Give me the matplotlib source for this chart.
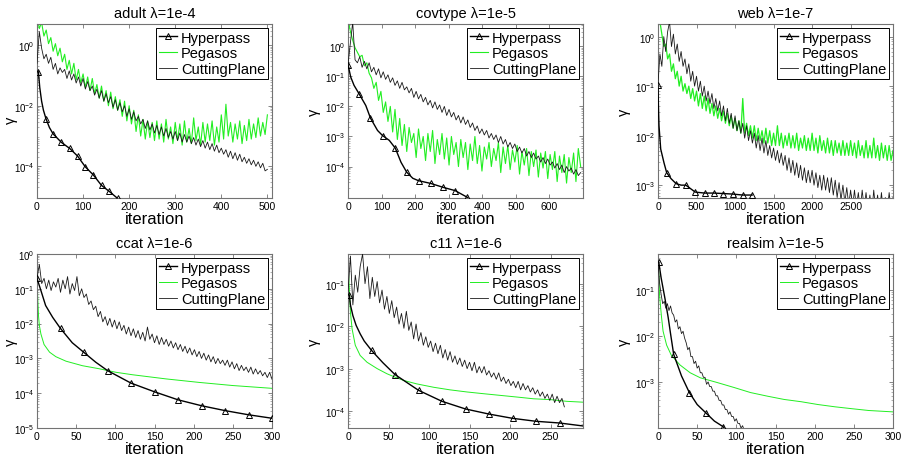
import numpy as np
import matplotlib
matplotlib.use("Agg")
import matplotlib.pyplot as plt
from matplotlib.ticker import FixedLocator, LogLocator, NullFormatter

plt.rcParams['font.family'] = ['Liberation Sans', 'DejaVu Sans']
plt.rcParams['mathtext.default'] = 'regular'

# ---- adult, lambda=1e-4 -------------------------------------------------
adult_hp_x = [3, 6, 10, 14, 19.5, 27, 35, 53, 71, 88, 105, 122, 140, 157, 175]
adult_hp_exp = [-0.88, -1.4, -1.85, -2.15, -2.43, -2.72, -2.93, -3.21, -3.41,
                -3.66, -4.02, -4.28, -4.63, -4.83, -5.06]
adult_peg_step = 5
adult_peg_exp = [0.95, 0.55, 0.75, 0.3, 0.5, 0.05, 0.25, -0.2, 0.05, -0.35,
                 -0.1, -0.55, -0.3, -0.8, -0.5, -0.95, -0.6, -1.15, -0.8, -1.25,
                 -0.95, -1.4, -1.05, -1.5, -1.1, -1.6, -1.3, -1.75, -1.35, -1.85,
                 -1.5, -2.0, -1.55, -2.1, -1.7, -2.15, -1.8, -2.35, -1.85, -2.5,
                 -2.0, -2.6, -2.15, -2.85, -2.3, -3.0, -2.45, -3.1, -2.5, -3.05,
                 -2.55, -3.15, -2.5, -3.1, -2.6, -3.2, -2.45, -3.1, -2.7, -3.25,
                 -2.55, -3.15, -2.6, -3.3, -2.5, -3.2, -2.75, -3.25, -2.4, -3.15,
                 -2.7, -3.3, -2.55, -3.2, -2.6, -3.15, -2.5, -3.3, -2.7, -3.2,
                 -2.3, -3.1, -1.95, -3.0, -2.55, -3.2, -2.6, -3.1, -2.5, -3.25,
                 -2.65, -3.15, -2.45, -3.1, -2.6, -3.05, -2.4, -3.0, -2.55, -2.95,
                 -2.3]
adult_cp_step = 5
adult_cp_exp = [-0.6, 0.45, -0.1, -0.45, -0.3, -0.6, -0.4, -0.8, -0.6, -0.95,
                -0.75, -0.9, -0.8, -1.1, -0.85, -1.15, -0.95, -1.25, -1.05, -1.35,
                -1.1, -1.45, -1.2, -1.5, -1.35, -1.65, -1.45, -1.75, -1.5, -1.85,
                -1.6, -1.9, -1.7, -2.05, -1.8, -2.15, -1.9, -2.2, -2.0, -2.35,
                -2.1, -2.45, -2.2, -2.5, -2.35, -2.6, -2.45, -2.75, -2.5, -2.8,
                -2.6, -2.9, -2.65, -2.95, -2.7, -3.0, -2.75, -3.05, -2.85, -3.1,
                -2.85, -3.15, -2.9, -3.2, -2.95, -3.2, -3.0, -3.25, -3.05, -3.3,
                -3.1, -3.35, -3.15, -3.4, -3.2, -3.45, -3.25, -3.5, -3.3, -3.55,
                -3.4, -3.6, -3.45, -3.7, -3.5, -3.75, -3.55, -3.8, -3.6, -3.85,
                -3.7, -3.9, -3.75, -3.95, -3.8, -4.0, -3.85, -4.05, -3.9, -4.15,
                -4.1]

# ---- covtype, lambda=1e-5 -----------------------------------------------
covtype_hp_x = [0, 8, 18, 33, 53, 67, 88, 103, 123, 141, 158, 175, 193, 210,
                246, 283, 319, 355, 365]
covtype_hp_exp = [-0.61, -1.02, -1.3, -1.58, -1.97, -2.39, -2.8, -2.97, -3.13,
                  -3.39, -3.86, -4.19, -4.39, -4.47, -4.56, -4.69, -4.8, -5.02,
                  -5.12]
covtype_peg_step = 7
covtype_peg_exp = [0.9, 0.5, 0.2, -0.05, -0.2, -0.35, -0.3, -0.65, -0.55, -0.9,
                   -1.05, -1.4, -1.2, -1.8, -1.5, -2.2, -1.85, -2.5, -2.0, -2.85,
                   -2.1, -3.1, -2.4, -3.3, -2.6, -3.5, -2.7, -3.2, -2.9, -3.7,
                   -2.75, -3.4, -3.0, -3.8, -2.9, -3.5, -2.8, -3.9, -3.1, -3.6,
                   -2.9, -3.75, -3.05, -3.95, -3.0, -3.6, -3.2, -4.0, -3.1, -3.7,
                   -3.2, -4.1, -3.25, -3.8, -3.0, -3.9, -3.3, -4.15, -3.35, -3.75,
                   -3.2, -4.0, -3.4, -3.8, -3.2, -4.2, -3.35, -3.9, -3.3, -4.1,
                   -3.45, -3.85, -3.3, -4.25, -3.5, -3.95, -3.4, -4.3, -3.5, -4.0,
                   -3.45, -4.35, -3.55, -4.05, -3.5, -4.4, -3.6, -4.1, -3.5, -4.5,
                   -3.65, -4.2, -3.6, -4.55, -3.7, -4.2, -3.55, -4.5, -3.4, -4.0]
covtype_cp_step = 7
covtype_cp_exp = [-0.6, 0.1, 0.8, -0.45, -0.55, -0.35, -0.7, -0.5, -0.75, -0.55,
                  -0.85, -0.7, -0.95, -0.75, -1.05, -0.85, -1.1, -0.95, -1.2, -1.05,
                  -1.3, -1.15, -1.4, -1.2, -1.45, -1.35, -1.55, -1.4, -1.7, -1.5,
                  -1.75, -1.6, -1.85, -1.7, -1.95, -1.8, -2.05, -1.85, -2.1, -1.95,
                  -2.2, -2.0, -2.3, -2.1, -2.35, -2.2, -2.45, -2.3, -2.55, -2.35,
                  -2.6, -2.45, -2.7, -2.55, -2.8, -2.65, -2.9, -2.75, -2.95, -2.8,
                  -3.05, -2.9, -3.1, -2.95, -3.2, -3.0, -3.25, -3.1, -3.35, -3.2,
                  -3.4, -3.25, -3.5, -3.35, -3.55, -3.4, -3.65, -3.5, -3.7, -3.55,
                  -3.75, -3.65, -3.85, -3.7, -3.9, -3.75, -3.95, -3.85, -4.05, -3.9,
                  -4.1, -3.95, -4.2, -4.0, -4.15, -4.05, -4.25, -4.1, -4.3, -4.2]

# ---- web, lambda=1e-7 ---------------------------------------------------
web_hp_x = [0, 4, 8, 13, 35, 78, 113, 170, 235, 300, 361, 483, 604, 726, 848,
            970, 1100, 1222]
web_hp_exp = [-0.98, -1.3, -1.55, -1.8, -2.27, -2.55, -2.75, -2.87, -2.97, -3.0,
              -3.0, -3.14, -3.16, -3.16, -3.17, -3.18, -3.2, -3.2]
web_peg_step = 25
web_peg_exp = [0.6, 0.3, 0.05, -0.2, -0.15, -0.45, -0.35, -0.7, -0.55, -0.85,
               -0.7, -1.0, -0.8, -1.1, -0.95, -1.15, -1.0, -1.25, -1.05, -1.3,
               -1.1, -1.4, -1.15, -1.45, -1.2, -1.5, -1.25, -1.55, -1.35, -1.6,
               -1.4, -1.65, -1.45, -1.7, -1.5, -1.75, -1.55, -1.8, -1.6, -1.85,
               -1.65, -1.9, -1.7, -1.95, -1.25, -1.95, -1.75, -2.0, -1.8, -2.05,
               -1.8, -2.1, -1.85, -2.1, -1.9, -2.15, -1.85, -2.15, -1.9, -2.2,
               -1.95, -2.2, -1.8, -2.2, -1.95, -2.25, -2.0, -2.2, -1.95, -2.25,
               -2.0, -2.25, -1.95, -2.3, -2.05, -2.25, -2.0, -2.3, -2.05, -2.3,
               -1.95, -2.3, -2.05, -2.35, -2.0, -2.3, -2.1, -2.35, -2.05, -2.35,
               -2.1, -2.4, -2.1, -2.35, -2.15, -2.4, -2.1, -2.4, -2.15, -2.4,
               -2.1, -2.4, -2.15, -2.45, -2.1, -2.4, -2.2, -2.45, -2.1, -2.45,
               -2.2, -2.45, -2.05, -2.45, -2.2, -2.5, -2.15, -2.45, -2.2, -2.5,
               -2.2, -2.5, -2.3]
web_cp_step = 25
web_cp_exp = [-0.95, -0.35, -0.6, 0.0, -0.3, 0.1, 0.3, -0.2, 0.05, -0.35,
              -0.15, -0.5, -0.3, -0.6, -0.45, -0.75, -0.55, -0.9, -0.7, -1.0,
              -0.8, -1.1, -0.9, -1.2, -1.0, -1.3, -1.1, -1.35, -1.15, -1.45,
              -1.25, -1.5, -1.3, -1.6, -1.4, -1.7, -1.45, -1.75, -1.55, -1.85,
              -1.6, -1.9, -1.7, -1.95, -1.75, -2.05, -1.8, -2.1, -1.9, -2.15,
              -1.95, -2.25, -2.0, -2.3, -2.05, -2.35, -2.1, -2.4, -2.2, -2.45,
              -2.25, -2.5, -2.3, -2.55, -2.35, -2.6, -2.4, -2.7, -2.45, -2.75,
              -2.5, -2.8, -2.55, -2.85, -2.6, -2.9, -2.65, -2.95, -2.7, -2.95,
              -2.7, -3.0, -2.75, -3.05, -2.8, -3.1, -2.8, -3.1, -2.85, -3.15,
              -2.85, -3.2, -2.9, -3.25, -2.95, -3.3, -3.0, -3.35, -3.05, -3.4,
              -3.1, -3.45, -3.1, -3.45, -3.15, -3.5, -3.1, -3.45, -3.15, -3.5,
              -3.2, -3.55, -3.1, -3.5, -3.2, -3.55, -3.15, -3.55, -3.25, -3.55,
              -3.15, -3.5, -3.25]

# ---- ccat, lambda=1e-6 --------------------------------------------------
ccat_hp_x = [0, 5, 11, 20, 30, 45, 60, 75, 90, 120, 150, 180, 210, 240, 270, 300]
ccat_hp_exp = [-0.7, -1.05, -1.48, -1.82, -2.14, -2.55, -2.83, -3.11, -3.35,
               -3.71, -3.96, -4.19, -4.36, -4.5, -4.62, -4.72]
ccat_peg_x = [0, 1, 2, 3, 5, 9, 16, 24, 37, 58, 80, 101, 122, 165, 207, 250, 300]
ccat_peg_exp = [-0.6, -1.3, -1.8, -2.05, -2.3, -2.6, -2.82, -2.95, -3.08, -3.21,
                -3.3, -3.4, -3.47, -3.59, -3.69, -3.78, -3.86]
ccat_cp_step = 3
ccat_cp_exp = [-0.7, -0.3, -0.85, -0.7, -1.0, -0.75, -1.05, -0.8, -0.95, -0.7,
               -1.1, -0.75, -1.0, -0.65, -1.15, -0.85, -1.05, -0.65, -1.2, -1.0,
               -1.25, -1.15, -1.45, -1.35, -1.6, -1.5, -1.8, -1.65, -1.95, -1.8,
               -2.05, -1.85, -2.1, -1.9, -2.15, -1.95, -2.2, -2.05, -2.3, -2.1,
               -2.35, -2.15, -2.4, -2.2, -2.45, -2.25, -2.5, -2.1, -2.45, -2.3,
               -2.55, -2.35, -2.6, -2.4, -2.6, -2.45, -2.65, -2.5, -2.7, -2.55,
               -2.75, -2.6, -2.8, -2.65, -2.85, -2.7, -2.9, -2.75, -2.95, -2.8,
               -3.0, -2.85, -3.05, -2.9, -3.1, -2.95, -3.15, -3.0, -3.15, -3.05,
               -3.2, -3.05, -3.25, -3.1, -3.3, -3.15, -3.35, -3.2, -3.35, -3.25,
               -3.4, -3.25, -3.45, -3.3, -3.45, -3.35, -3.5, -3.4, -3.55, -3.4,
               -3.6]

# ---- c11, lambda=1e-6 ---------------------------------------------------
c11_hp_x = [1.6, 3, 6, 10, 15, 20, 29, 43, 58, 87, 116, 145, 174, 203, 232, 261, 290]
c11_hp_exp = [-1.27, -1.5, -1.75, -1.98, -2.18, -2.35, -2.57, -2.86, -3.14, -3.51,
              -3.77, -3.95, -4.07, -4.17, -4.24, -4.28, -4.35]
c11_peg_x = [0, 1, 3, 5, 9, 15, 23.5, 36, 48, 58, 69, 85, 106, 126, 147, 167,
             188, 209, 229, 250, 270, 290]
c11_peg_exp = [-0.49, -0.88, -1.67, -2.06, -2.45, -2.69, -2.85, -3.0, -3.12, -3.2,
               -3.28, -3.36, -3.44, -3.5, -3.55, -3.59, -3.63, -3.67, -3.71, -3.73,
               -3.77, -3.79]
c11_cp_step = 3
c11_cp_exp = [-1.2, -0.35, -1.5, -0.8, -1.2, -0.6, -0.3, -1.0, -0.6, -1.35,
              -0.85, -1.3, -0.95, -1.45, -1.15, -1.6, -1.3, -1.7, -1.4, -1.8,
              -1.55, -1.95, -1.7, -2.05, -1.65, -2.1, -1.9, -2.3, -1.95, -2.35,
              -2.15, -2.45, -2.25, -2.5, -2.35, -2.6, -2.4, -2.65, -2.45, -2.75,
              -2.55, -2.8, -2.6, -2.85, -2.7, -2.9, -2.75, -2.95, -2.8, -3.0,
              -2.85, -3.05, -2.85, -3.1, -2.95, -3.1, -2.95, -3.15, -3.05, -3.2,
              -3.1, -3.25, -3.1, -3.3, -3.2, -3.35, -3.25, -3.4, -3.3, -3.45,
              -3.3, -3.5, -3.35, -3.5, -3.4, -3.55, -3.45, -3.6, -3.5, -3.65,
              -3.55, -3.7, -3.6, -3.75, -3.6, -3.8, -3.65, -3.8, -3.7, -3.9]

# ---- realsim, lambda=1e-5 -----------------------------------------------
realsim_hp_x = [1, 4, 9, 13, 16, 20, 30, 40, 50, 61, 72, 83, 87]
realsim_hp_exp = [-0.4, -0.74, -1.2, -1.6, -1.95, -2.4, -2.87, -3.23, -3.49,
                  -3.67, -3.85, -3.97, -4.05]
realsim_peg_x = [0, 1.3, 2, 4.3, 6.5, 11, 17, 28, 41, 54, 75, 97, 118, 140, 161,
                 183, 204, 226, 247, 269, 300]
realsim_peg_exp = [-0.2, -0.76, -1.12, -1.56, -1.9, -2.2, -2.42, -2.63, -2.8,
                   -2.91, -3.01, -3.12, -3.23, -3.31, -3.38, -3.43, -3.49, -3.54,
                   -3.58, -3.62, -3.65]
realsim_cp_step = 2
realsim_cp_exp = [-0.4, -0.85, -1.1, -1.3, -1.25, -1.4, -1.3, -1.45, -1.35, -1.5,
                  -1.55, -1.7, -1.65, -1.85, -1.8, -1.95, -1.9, -2.05, -2.15, -2.3,
                  -2.25, -2.45, -2.45, -2.6, -2.55, -2.7, -2.65, -2.8, -2.8, -2.9,
                  -2.9, -3.05, -3.0, -3.1, -3.1, -3.2, -3.2, -3.3, -3.3, -3.4,
                  -3.4, -3.5, -3.5, -3.6, -3.6, -3.7, -3.65, -3.75, -3.75, -3.85,
                  -3.8, -3.9, -3.9, -4.0, -3.95, -4.05]

# panel table built from the arrays above
panels = [
    dict(title='adult λ=1e-4', hp=(adult_hp_x, adult_hp_exp),
         hp_marks=[0, 4, 6, 7, 8, 9, 10, 11, 12, 13, 14],
         peg=(np.arange(len(adult_peg_exp)) * adult_peg_step, adult_peg_exp),
         cp=(np.arange(len(adult_cp_exp)) * adult_cp_step, adult_cp_exp),
         xlim=(0, 510), ylim=(9e-6, 5.0), xticks=range(0, 501, 100),
         yticks=[1, 1e-2, 1e-4], peg_lw=0.8),
    dict(title='covtype λ=1e-5', hp=(covtype_hp_x, covtype_hp_exp),
         hp_marks=[0, 3, 5, 7, 9, 11, 13, 14, 15, 16, 17],
         peg=(np.arange(len(covtype_peg_exp)) * covtype_peg_step, covtype_peg_exp),
         cp=(np.arange(len(covtype_cp_exp)) * covtype_cp_step, covtype_cp_exp),
         xlim=(0, 700), ylim=(9e-6, 5.5), xticks=range(0, 601, 100),
         yticks=[1, 1e-1, 1e-2, 1e-3, 1e-4], peg_lw=0.8),
    dict(title='web λ=1e-7', hp=(web_hp_x, web_hp_exp),
         hp_marks=[0, 6, 8, 10, 11, 12, 13, 14, 15, 16, 17],
         peg=(np.arange(len(web_peg_exp)) * web_peg_step, web_peg_exp),
         cp=(np.arange(len(web_cp_exp)) * web_cp_step, web_cp_exp),
         xlim=(0, 3050), ylim=(5.5e-4, 1.8), xticks=range(0, 2501, 500),
         yticks=[1, 1e-1, 1e-2, 1e-3], peg_lw=0.9),
    dict(title='ccat λ=1e-6', hp=(ccat_hp_x, ccat_hp_exp),
         hp_marks=[0, 4, 6, 8, 9, 10, 11, 12, 13, 14, 15],
         peg=(ccat_peg_x, ccat_peg_exp),
         cp=(np.arange(len(ccat_cp_exp)) * ccat_cp_step, ccat_cp_exp),
         xlim=(0, 300), ylim=(1e-5, 1.0), xticks=range(0, 301, 50),
         yticks=[1, 1e-1, 1e-2, 1e-3, 1e-4, 1e-5], peg_lw=0.7),
    dict(title='c11 λ=1e-6', hp=(c11_hp_x, c11_hp_exp),
         hp_marks=[0, 6, 8, 9, 10, 11, 12, 13, 14, 15],
         peg=(c11_peg_x, c11_peg_exp),
         cp=(np.arange(len(c11_cp_exp)) * c11_cp_step, c11_cp_exp),
         xlim=(0, 290), ylim=(4e-5, 0.5), xticks=range(0, 251, 50),
         yticks=[1e-1, 1e-2, 1e-3, 1e-4], peg_lw=0.7),
    dict(title='realsim λ=1e-5', hp=(realsim_hp_x, realsim_hp_exp),
         hp_marks=[0, 5, 7, 9, 11],
         peg=(realsim_peg_x, realsim_peg_exp),
         cp=(np.arange(len(realsim_cp_exp)) * realsim_cp_step, realsim_cp_exp),
         xlim=(0, 300), ylim=(1e-4, 0.6), xticks=range(0, 301, 50),
         yticks=[1e-1, 1e-2, 1e-3], peg_lw=0.7),
]

fig = plt.figure(figsize=(9.02, 4.6), dpi=100)
lefts = [37, 348, 658]
tops = [25, 255]
for i, p in enumerate(panels):
    l = lefts[i % 3]
    t = tops[i // 3]
    ax = fig.add_axes([l / 902, (460 - t - 174) / 460, 235 / 902, 174 / 460])

    hx, hy = p['hp']
    ax.plot(hx, 10.0 ** np.array(hy), color='black', lw=1.0, marker='^',
            ms=4.5, mfc='none', mew=0.7, markevery=p['hp_marks'],
            label='Hyperpass', zorder=4)
    gx, gy = p['peg']
    ax.plot(gx, 10.0 ** np.array(gy), color='#22ee22', lw=p['peg_lw'],
            label='Pegasos', zorder=2)
    cx, cy = p['cp']
    ax.plot(cx, 10.0 ** np.array(cy), color='#1a1a1a', lw=0.6,
            label='CuttingPlane', zorder=3)

    ax.set_yscale('log')
    ax.set_xlim(*p['xlim'])
    ax.set_ylim(*p['ylim'])
    ax.xaxis.set_major_locator(FixedLocator(list(p['xticks'])))
    ax.yaxis.set_major_locator(FixedLocator(p['yticks']))
    ax.yaxis.set_minor_locator(LogLocator(base=10, subs=np.arange(2, 10)))
    ax.yaxis.set_minor_formatter(NullFormatter())

    ax.tick_params(which='both', direction='in', top=True, right=True,
                   colors='0.45', labelcolor='black')
    ax.tick_params(which='major', length=3, width=0.6, pad=2)
    ax.tick_params(which='minor', length=1.5, width=0.4)
    ax.tick_params(axis='x', labelsize=7.5)
    ax.tick_params(axis='y', labelsize=7)
    for s in ax.spines.values():
        s.set_color('0.45')
        s.set_linewidth(0.8)

    ax.set_title(p['title'], fontsize=10.5, pad=5)
    ax.set_xlabel('iteration', fontsize=12, labelpad=0)
    ax.set_ylabel('γ', fontsize=10.5)
    # anchor is the right side of the rotated label (pixels left of the axes)
    gap = 19.5 if l == 37 else 27
    # adult has a 1e-2 tick label right at mid-height, nudge the symbol below it
    ax.yaxis.set_label_coords(-gap / 235, 0.45 if i == 0 else 0.5)

    leg = ax.legend(loc='upper right', fontsize=10.5, handlelength=1.2,
                    handletextpad=0.3, labelspacing=0.12, borderpad=0.2,
                    borderaxespad=0.25, fancybox=False, framealpha=1)
    leg.get_frame().set_edgecolor('black')
    leg.get_frame().set_linewidth(0.7)

fig.savefig('out.png', dpi=100)
